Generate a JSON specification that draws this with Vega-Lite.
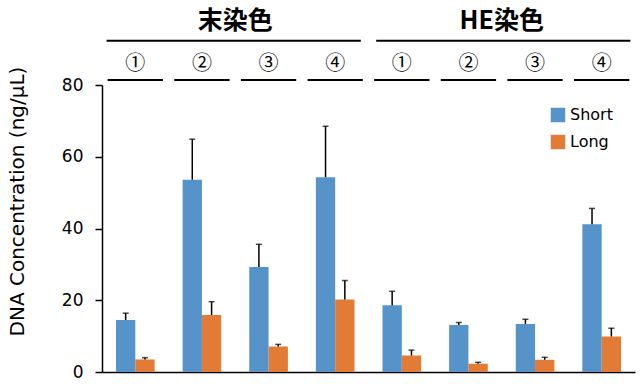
{
  "$schema": "https://vega.github.io/schema/vega-lite/v6.json",
  "padding": {"left": 7, "top": 8, "right": 5, "bottom": 5},
  "spacing": 0,
  "bounds": "flush",
  "resolve": {"legend": {"color": "independent"}},
  "config": {"view": {"stroke": null}, "font": "DejaVu Sans", "concat": {"spacing": 0}},
  "datasets": {
    "stains": [{"stain": "末染色"}, {"stain": "HE染色"}],
    "groups": [
      {"group": "末染色①", "stain": "末染色", "num": "①"},
      {"group": "末染色②", "stain": "末染色", "num": "②"},
      {"group": "末染色③", "stain": "末染色", "num": "③"},
      {"group": "末染色④", "stain": "末染色", "num": "④"},
      {"group": "HE染色①", "stain": "HE染色", "num": "①"},
      {"group": "HE染色②", "stain": "HE染色", "num": "②"},
      {"group": "HE染色③", "stain": "HE染色", "num": "③"},
      {"group": "HE染色④", "stain": "HE染色", "num": "④"}
    ],
    "bars": [
      {"group": "末染色①", "series": "Short", "value": 14.5, "upper": 16.4},
      {"group": "末染色①", "series": "Long", "value": 3.5, "upper": 4.0},
      {"group": "末染色②", "series": "Short", "value": 53.6, "upper": 64.9},
      {"group": "末染色②", "series": "Long", "value": 15.9, "upper": 19.6},
      {"group": "末染色③", "series": "Short", "value": 29.3, "upper": 35.6},
      {"group": "末染色③", "series": "Long", "value": 7.1, "upper": 7.7},
      {"group": "末染色④", "series": "Short", "value": 54.3, "upper": 68.5},
      {"group": "末染色④", "series": "Long", "value": 20.2, "upper": 25.5},
      {"group": "HE染色①", "series": "Short", "value": 18.6, "upper": 22.5},
      {"group": "HE染色①", "series": "Long", "value": 4.6, "upper": 6.1},
      {"group": "HE染色②", "series": "Short", "value": 13.1, "upper": 13.8},
      {"group": "HE染色②", "series": "Long", "value": 2.3, "upper": 2.7},
      {"group": "HE染色③", "series": "Short", "value": 13.4, "upper": 14.7},
      {"group": "HE染色③", "series": "Long", "value": 3.4, "upper": 4.1},
      {"group": "HE染色④", "series": "Short", "value": 41.2, "upper": 45.6},
      {"group": "HE染色④", "series": "Long", "value": 9.9, "upper": 12.2}
    ]
  },
  "vconcat": [
    {
      "width": 533,
      "height": 69,
      "resolve": {"scale": {"x": "independent"}},
      "layer": [
        {
          "data": {"name": "stains"},
          "mark": {"type": "text", "font": "Noto Sans CJK JP", "fontWeight": "bold", "fontSize": 25, "baseline": "middle", "color": "black"},
          "encoding": {
            "x": {"field": "stain", "type": "nominal", "scale": {"domain": ["末染色", "HE染色"], "paddingInner": 0.057, "paddingOuter": 0.017}, "axis": null},
            "y": {"datum": "title", "type": "ordinal", "scale": {"type": "point", "domain": ["title", "stainline", "number", "numberline"], "padding": 0.25}, "axis": null},
            "text": {"field": "stain"}
          }
        },
        {
          "data": {"name": "stains"},
          "mark": {"type": "rule", "strokeWidth": 2, "color": "black"},
          "encoding": {
            "x": {"field": "stain", "type": "nominal", "bandPosition": 0, "scale": {"domain": ["末染色", "HE染色"], "paddingInner": 0.057, "paddingOuter": 0.017}, "axis": null},
            "x2": {"field": "stain", "bandPosition": 1},
            "y": {"datum": "stainline", "type": "ordinal"}
          }
        },
        {
          "data": {"name": "groups"},
          "mark": {"type": "text", "font": "Noto Sans CJK JP", "fontSize": 20, "baseline": "middle", "color": "black", "dy": 4},
          "encoding": {
            "x": {"field": "group", "type": "nominal", "sort": null, "scale": {"paddingInner": 0.17, "paddingOuter": 0.085}, "axis": null},
            "y": {"datum": "number", "type": "ordinal"},
            "text": {"field": "num"}
          }
        },
        {
          "data": {"name": "groups"},
          "mark": {"type": "rule", "strokeWidth": 2, "color": "black"},
          "encoding": {
            "x": {"field": "group", "type": "nominal", "sort": null, "bandPosition": 0, "scale": {"paddingInner": 0.17, "paddingOuter": 0.085}, "axis": null},
            "x2": {"field": "group", "bandPosition": 1},
            "y": {"datum": "numberline", "type": "ordinal"}
          }
        }
      ]
    },
    {
      "width": 533,
      "height": 287,
      "data": {"name": "bars"},
      "encoding": {
        "x": {"field": "group", "type": "nominal", "sort": null, "scale": {"paddingInner": 0.42, "paddingOuter": 0.21}, "axis": {"title": null, "labels": false, "ticks": false, "domainColor": "black", "domainWidth": 1.5}},
        "xOffset": {"field": "series", "type": "nominal", "scale": {"domain": ["Short", "Long"]}}
      },
      "layer": [
        {
          "mark": {"type": "bar"},
          "encoding": {
            "y": {"field": "value", "type": "quantitative", "title": "DNA Concentration (ng/μL)", "scale": {"domain": [0, 80]},
              "axis": {"values": [0, 20, 40, 60, 80], "grid": false, "tickSize": 7, "tickColor": "black", "tickWidth": 1.5, "domainColor": "black", "domainWidth": 1.5, "labelFontSize": 17, "labelColor": "black", "labelPadding": 12, "titleFontSize": 20, "titleFontWeight": "normal", "titleColor": "black", "titlePadding": 34, "titleY": 116}},
            "color": {"field": "series", "type": "nominal", "scale": {"domain": ["Short", "Long"], "range": ["#5593C9", "#E27B36"]},
              "legend": {"title": null, "orient": "top-right", "offset": 22, "symbolType": "square", "symbolSize": 210, "symbolOpacity": 1, "symbolStrokeWidth": 0, "labelFontSize": 16, "labelColor": "black", "rowPadding": 11}}
          }
        },
        {
          "mark": {"type": "rule", "color": "black", "strokeWidth": 1.5},
          "encoding": {
            "y": {"field": "value", "type": "quantitative"},
            "y2": {"field": "upper"}
          }
        },
        {
          "mark": {"type": "tick", "color": "black", "orient": "horizontal", "size": 6, "thickness": 1.5},
          "encoding": {
            "y": {"field": "upper", "type": "quantitative"}
          }
        }
      ]
    }
  ]
}
